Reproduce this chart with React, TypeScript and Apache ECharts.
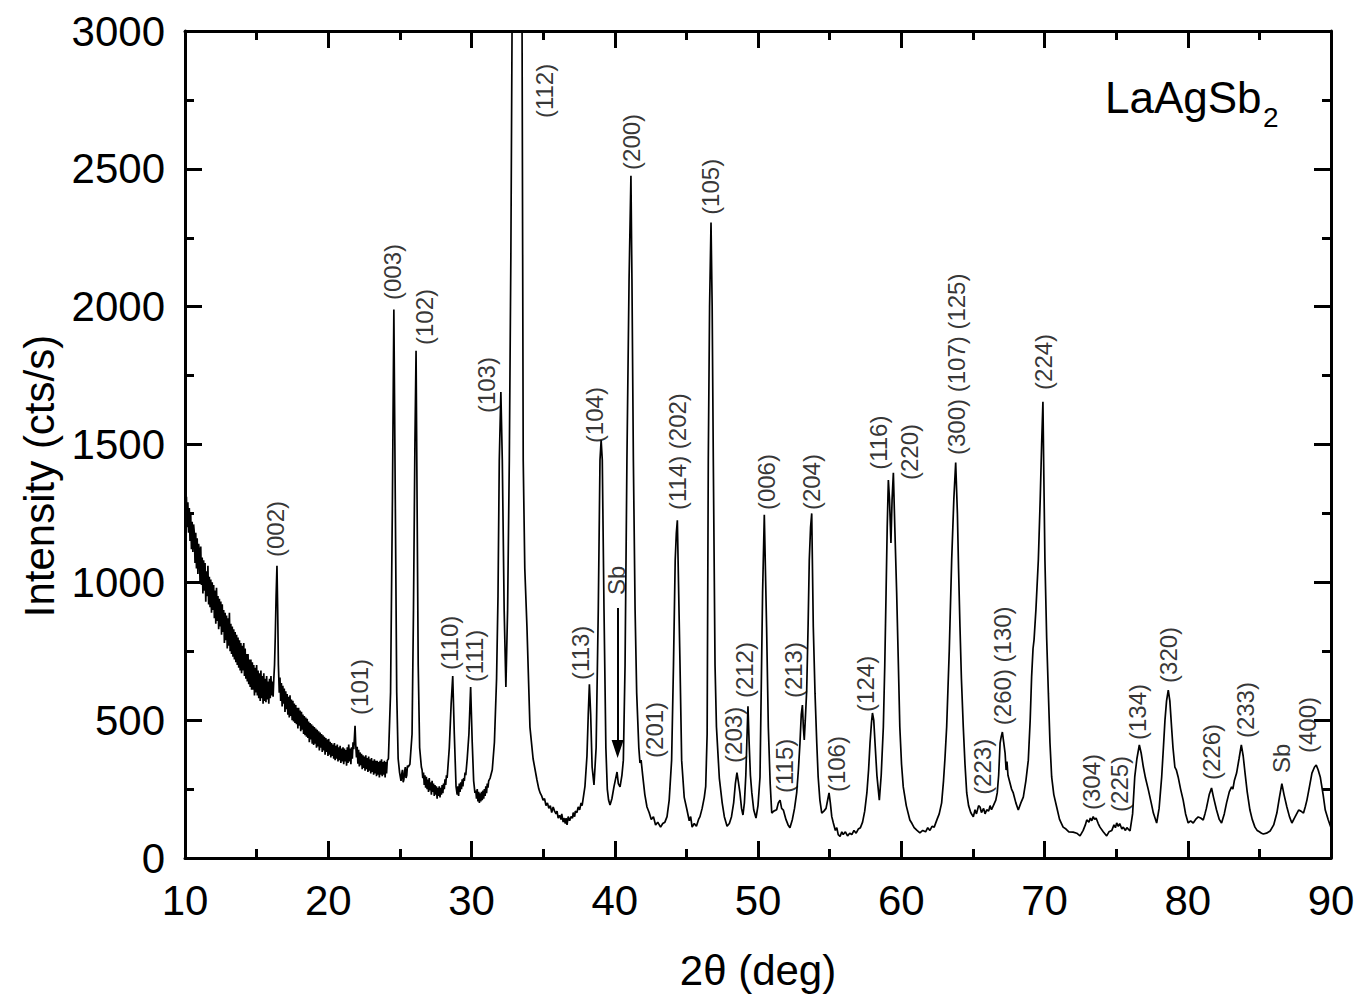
import React, { useEffect, useRef } from "react";
import * as echarts from "echarts";

const FONT = '"Liberation Sans", Arial, Helvetica, sans-serif';

// 2θ (deg), intensity (cts/s), split by region
const scanLowAngle: [number, number][] = [
  [10.00,1340],[10.05,1250],[10.10,1310],[10.15,1200],[10.20,1290],[10.25,1180],[10.30,1270],[10.35,1150],[10.40,1250],[10.45,1120],
  [10.50,1220],[10.55,1110],[10.60,1210],[10.65,1180],[10.70,1070],[10.75,1180],[10.80,1050],[10.85,1160],[10.90,1030],[10.95,1140],
  [11.00,1110],[11.05,1000],[11.10,1130],[11.15,990],[11.20,1090],[11.25,960],[11.30,1080],[11.35,970],[11.40,1070],[11.45,930],
  [11.50,1040],[11.55,950],[11.60,1060],[11.65,920],[11.70,1020],[11.75,910],[11.80,1010],[11.85,890],[11.90,1000],[11.95,900],
  [12.00,990],[12.05,870],[12.10,970],[12.15,850],[12.20,980],[12.25,860],[12.30,950],[12.35,830],[12.40,940],[12.45,840],
  [12.50,930],[12.55,810],[12.60,920],[12.65,820],[12.70,900],[12.75,780],[12.80,890],[12.85,790],[12.90,880],[12.95,760],
  [13.00,870],[13.05,770],[13.10,890],[13.15,750],[13.20,850],[13.25,740],[13.30,840],[13.35,730],[13.40,830],[13.45,720],
  [13.50,820],[13.55,710],[13.60,810],[13.65,700],[13.70,800],[13.75,690],[13.80,790],[13.85,680],[13.90,780],[13.95,670],
  [14.00,770],[14.05,680],[14.10,780],[14.15,660],[14.20,760],[14.25,650],[14.30,740],[14.35,640],[14.40,740],[14.45,630],
  [14.50,720],[14.55,620],[14.60,720],[14.65,610],[14.70,710],[14.75,610],[14.80,700],[14.85,590],[14.90,690],[14.95,600],
  [15.00,700],[15.05,590],[15.10,680],[15.15,580],[15.20,670],[15.25,570],[15.30,680],[15.35,580],[15.40,660],[15.45,560],
  [15.50,670],[15.55,570],[15.60,650],[15.65,565],[15.70,660],[15.75,575],[15.80,640],[15.85,560],[15.90,650],[15.95,580],
  [16.00,660],[16.05,590],[16.10,640],[16.15,585],[16.20,650],[16.25,700],[16.30,800],[16.36,950],[16.42,1060],[16.47,900],
  [16.52,700],[16.58,600],[16.63,655],[16.68,570],[16.73,635],[16.78,550],[16.83,625],[16.88,560],[16.93,615],[16.98,530],
  [17.03,605],[17.08,540],[17.13,595],[17.18,520],[17.23,585],[17.28,510],[17.33,590],[17.38,515],[17.43,575],[17.48,500],
  [17.53,570],[17.58,495],[17.63,560],[17.68,490],[17.73,555],[17.78,485],[17.83,545],[17.88,470],[17.93,545],[17.98,480],
  [18.03,535],[18.08,460],[18.13,530],[18.18,465],[18.23,520],[18.28,450],[18.33,515],[18.38,445],[18.43,510],[18.48,440],
  [18.53,505],[18.58,435],[18.63,495],[18.68,420],[18.73,490],[18.78,430],[18.83,485],[18.88,415],[18.93,480],[18.98,410],
  [19.03,475],[19.08,415],[19.13,470],[19.18,400],[19.23,465],[19.28,405],[19.33,460],[19.38,390],[19.43,455],[19.48,400],
  [19.53,450],[19.58,385],[19.63,445],[19.68,390],[19.73,440],[19.78,375],[19.83,435],[19.88,385],[19.93,430],[19.98,370],
  [20.03,432],[20.08,375],[20.13,422],[20.18,365],[20.23,417],[20.28,370],[20.33,412],[20.38,360],[20.43,417],[20.48,355],
  [20.53,407],[20.58,360],[20.63,412],[20.68,350],[20.73,402],[20.78,355],[20.83,407],[20.88,345],[20.93,397],[20.98,350],
  [21.03,402],[21.08,340],[21.13,397],[21.18,350],[21.23,392],[21.28,335],[21.33,402],[21.38,345],[21.43,412],[21.48,350],
  [21.53,397],[21.58,340],[21.63,402],[21.68,360],[21.73,420],[21.78,395],[21.83,440],[21.87,480],[21.92,410],[21.97,365],
  [22.02,403],[22.07,342],[22.12,393],[22.17,332],[22.22,383],[22.27,337],[22.32,378],[22.37,322],[22.42,373],[22.47,327],
  [22.52,368],[22.57,317],[22.62,373],[22.67,322],[22.72,363],[22.77,312],[22.82,368],[22.87,317],[22.92,358],[22.97,307],
  [23.02,363],[23.07,312],[23.12,353],[23.17,302],[23.22,358],[23.27,307],[23.32,353],[23.37,297],[23.42,353],[23.47,302],
  [23.52,348],[23.57,292],[23.62,353],[23.67,302],[23.72,358],[23.77,297],[23.82,348],[23.87,302],[23.92,353],[23.97,292],
  [24.02,348],[24.07,307],[24.12,353],
];

const scanRegion1: [number, number][] = [
  [24.2,360],[24.35,600],[24.48,1300],[24.58,1990],[24.68,1300],[24.78,600],[24.88,360],[24.98,310],[25.08,280],
  [25.13,305],[25.18,320],[25.23,275],[25.28,285],[25.33,315],[25.38,330],[25.43,290],[25.48,300],[25.53,335],[25.58,330],
  [25.7,340],[25.85,450],[25.95,900],[26.05,1500],[26.13,1840],[26.2,1300],[26.28,700],[26.38,400],[26.5,330],
  [26.55,320],[26.6,290],[26.65,310],[26.7,265],[26.75,300],[26.8,255],[26.85,295],[26.9,250],[26.95,285],[27.0,240],
  [27.05,290],[27.1,245],[27.15,275],[27.2,230],[27.25,280],[27.3,240],[27.35,270],[27.4,225],[27.45,265],[27.5,230],
  [27.55,260],[27.6,215],[27.65,255],[27.7,225],[27.75,260],[27.8,220],[27.85,255],[27.9,230],[27.95,265],[28.0,235],
  [28.05,270],[28.1,250],[28.15,285],[28.2,265],[28.25,300],[28.3,290],[28.45,400],[28.58,560],[28.69,660],[28.8,450],
  [28.92,260],[29.0,230],[29.05,260],[29.1,225],[29.15,270],[29.2,240],[29.25,275],[29.3,250],[29.35,285],[29.4,260],
  [29.45,290],[29.5,280],[29.55,310],[29.6,300],[29.7,360],[29.82,450],[29.94,620],[30.05,420],[30.15,280],[30.24,236],
  [30.3,245],[30.35,215],[30.4,250],[30.45,205],[30.5,240],[30.55,200],[30.6,235],[30.65,205],[30.7,240],[30.75,210],
  [30.8,245],[30.85,215],[30.9,250],[30.95,225],[31.0,260],[31.05,235],[31.1,270],[31.15,255],[31.2,280],[31.3,290],
  [31.45,320],[31.6,420],[31.75,650],[31.85,950],[31.94,1444],[32.05,1690],[32.15,1444],[32.28,900],[32.4,620],
];

const scanRegion2: [number, number][] = [
  [32.52,900],[32.64,1444],[32.75,2200],[32.83,3000],[32.95,4500],[33.15,5600],[33.35,4800],[33.47,3600],[33.53,3000],
  [33.61,1444],[33.72,1050],[33.87,840],[34.08,475],[34.3,360],[34.57,283],[34.7,250],[34.8,235],[34.9,225],[35.0,210],
  [35.1,215],[35.2,190],[35.3,200],[35.4,180],[35.5,190],[35.6,165],[35.7,185],[35.8,170],[35.9,160],[35.97,170],
  [36.05,145],[36.15,155],[36.25,140],[36.3,160],[36.4,130],[36.45,145],[36.55,125],[36.6,145],[36.67,120],[36.75,150],
  [36.85,135],[36.95,150],[37.05,145],[37.1,165],[37.2,150],[37.25,170],[37.36,165],[37.45,185],[37.55,175],[37.65,200],
  [37.72,190],[37.78,210],[37.92,260],[38.06,370],
];

const scanRegion3: [number, number][] = [
  [38.15,520],[38.23,630],[38.32,520],[38.42,330],[38.55,265],[38.7,400],[38.85,900],[38.97,1444],[39.05,1515],
  [39.13,1444],[39.25,900],[39.38,400],[39.48,250],[39.57,210],[39.67,192],[39.8,215],[39.95,260],[40.07,290],
  [40.16,312],[40.25,270],[40.37,258],[40.5,300],[40.6,355],[40.72,700],[40.85,1444],[41.0,2100],[41.13,2475],
  [41.2,2100],[41.3,1444],[41.42,900],[41.53,600],[41.68,400],[41.76,345],[41.84,355],[41.95,300],[42.1,230],
  [42.25,185],[42.4,165],[42.55,140],[42.7,150],[42.85,120],[43.0,130],[43.2,112],[43.35,125],[43.5,130],[43.65,150],
  [43.8,210],[43.97,355],[44.1,700],[44.22,1080],[44.3,1180],[44.37,1225],[44.45,1000],[44.55,718],[44.67,355],
  [44.85,220],[45.04,175],[45.2,135],[45.3,150],[45.4,112],[45.55,125],[45.7,115],[45.85,140],[45.95,150],[46.1,180],
  [46.25,220],[46.35,260],[46.45,450],[46.53,1444],[46.62,2000],[46.72,2305],[46.8,2000],[46.88,1444],[47.0,700],
  [47.1,475],[47.3,290],[47.5,200],[47.65,150],[47.84,115],[48.0,125],[48.15,150],[48.3,200],[48.42,270],[48.53,310],
  [48.62,280],[48.74,236],[48.85,180],[48.95,156],[49.05,200],[49.15,300],[49.22,420],[49.3,550],[49.38,420],
  [49.47,300],[49.57,236],[49.7,175],[49.86,145],[50.0,190],[50.14,294],
];

const scanRegion4: [number, number][] = [
  [50.32,961],[50.44,1245],[50.6,838],[50.72,475],[50.85,270],[50.96,163],[51.1,170],[51.3,175],[51.42,200],
  [51.54,210],[51.65,180],[51.77,174],[51.95,140],[52.1,120],[52.23,110],[52.4,140],[52.55,180],[52.7,236],[52.82,320],
  [52.93,417],[53.02,520],[53.1,555],[53.17,470],[53.23,428],[53.3,500],[53.4,609],[53.5,850],[53.58,1081],
  [53.67,1200],[53.75,1250],[53.86,838],[53.98,598],[54.1,420],[54.2,294],[54.32,210],[54.45,163],[54.6,170],
  [54.75,180],[54.88,215],[54.96,236],[55.05,200],[55.15,150],[55.26,127],[55.4,100],[55.5,110],[55.6,85],[55.73,78],
  [55.85,95],[55.95,85],[56.1,95],[56.25,80],[56.4,90],[56.55,85],[56.7,100],[56.85,90],[57.0,105],[57.15,110],
  [57.3,130],[57.45,170],[57.6,236],[57.72,320],[57.82,417],[57.92,490],[57.99,526],[58.08,500],[58.17,417],[58.3,300],
  [58.47,210],[58.6,300],[58.75,475],[58.85,700],[58.94,961],[59.02,1200],[59.1,1371],[59.18,1300],[59.28,1143],
  [59.36,1300],[59.45,1397],[59.55,1200],[59.68,961],[59.8,700],[59.9,475],[60.02,340],[60.14,258],[60.35,190],
  [60.6,138],[60.75,125],[60.9,110],[61.1,100],[61.3,91],[61.5,100],[61.7,95],[61.85,110],[62.0,100],[62.15,115],
  [62.3,112],[62.5,140],[62.65,160],[62.82,200],
];

const scanRegion5: [number, number][] = [
  [62.95,280],[63.05,360],[63.17,475],[63.35,750],[63.52,1081],[63.67,1300],[63.8,1435],[63.92,1250],[64.0,1050],
  [64.1,838],[64.2,650],[64.33,475],[64.45,340],[64.57,236],[64.7,190],[64.85,165],[65.03,149],[65.15,175],[65.25,160],
  [65.4,190],[65.5,185],[65.6,165],[65.75,180],[65.85,160],[65.97,175],[66.1,170],[66.2,190],[66.3,175],[66.43,190],
  [66.6,210],[66.7,236],[66.8,300],[66.9,417],[66.98,440],[67.06,457],[67.15,420],[67.25,380],[67.32,319],[67.38,350],
  [67.45,300],[67.55,280],[67.7,250],[67.82,236],[68.0,200],[68.17,174],[68.35,200],[68.52,221],[68.7,280],[68.87,355],
  [69.0,500],[69.1,657],[69.2,760],[69.27,791],[69.4,900],[69.57,1081],[69.7,1300],[69.8,1500],[69.89,1655],
  [69.95,1400],[70.03,1081],[70.15,800],[70.27,598],[70.38,420],[70.5,294],[70.65,230],[70.85,185],[71.05,140],
  [71.3,112],[71.5,105],[71.7,95],[72.0,94],[72.25,90],[72.48,80],[72.7,100],[72.85,120],[72.95,138],[73.1,130],
  [73.2,145],[73.3,135],[73.4,150],[73.5,140],[73.6,145],[73.75,125],[73.87,112],[74.1,95],[74.34,80],[74.5,95],
  [74.7,100],[74.85,120],[74.95,110],[75.04,127],[75.15,115],[75.25,125],[75.4,105],[75.5,112],[75.65,100],
  [75.75,110],[75.97,98],
];

const scanRegion6: [number, number][] = [
  [76.15,160],[76.3,294],[76.45,360],[76.62,410],[76.75,380],[76.9,330],[77.05,290],[77.25,247],[77.45,200],
  [77.6,163],[77.83,127],[78.0,180],[78.18,294],[78.3,400],[78.41,500],[78.52,570],[78.64,609],[78.75,570],[78.87,475],
  [78.97,400],[79.1,330],[79.2,320],[79.33,294],[79.5,250],[79.68,210],[79.85,160],[80.03,127],[80.2,135],[80.38,127],
  [80.55,140],[80.73,149],[80.9,145],[81.08,138],[81.2,160],[81.3,180],[81.5,230],[81.66,254],[81.8,220],[82.01,174],
  [82.2,140],[82.36,127],[82.55,160],[82.71,200],[82.9,240],[83.06,258],[83.15,250],[83.25,280],[83.41,308],
  [83.58,360],[83.74,410],[83.87,370],[84.0,308],[84.15,240],[84.34,174],[84.5,140],[84.69,112],[84.85,100],[85.0,95],
  [85.15,90],[85.28,87],[85.5,90],[85.75,98],[86.0,120],[86.22,163],[86.4,220],[86.57,270],[86.72,230],[86.92,185],
  [87.1,150],[87.27,127],[87.5,150],[87.74,174],[87.9,170],[88.08,163],[88.2,185],[88.32,210],[88.5,260],[88.67,308],
  [88.85,330],[88.97,337],[89.1,320],[89.25,294],[89.45,230],[89.6,174],[89.8,140],[90.0,110],
];

// peak annotations: text, base position (2θ, intensity) where the rotated text starts
const peakLabelTexts = [
  "(002)", "(101)", "(003)", "(102)", "(110)", "(111)", "(103)", "(112)", "(113)", "(104)", "Sb", "(200)",
  "(201)", "(114) (202)", "(105)", "(203)", "(212)", "(006)", "(115)", "(213)", "(204)", "(106)", "(124)",
  "(116)", "(220)", "(300) (107) (125)", "(223)", "(260) (130)", "(224)", "(304)", "(225)", "(134)", "(320)",
  "(226)", "(233)", "Sb", "(400)",
];
const peakLabelX = [
  16.35, 22.15, 24.52, 26.75, 28.43, 30.24, 31.08, 35.13, 37.64, 38.62, 40.09, 41.2,
  42.74, 44.35, 46.7, 48.26, 49.09, 50.56, 51.82, 52.45, 53.7, 55.5, 57.47,
  58.4, 60.6, 63.89, 65.64, 67.1, 69.9, 73.25, 75.27, 76.46, 78.69,
  81.69, 84.0, 86.51, 88.33,
];
const peakLabelY = [
  1092, 519, 2024, 1861, 682, 638, 1614, 2684, 646, 1505, 954, 2496,
  363, 1262, 2333, 345, 580, 1262, 236, 580, 1262, 239, 530,
  1408, 1371, 1462, 229, 482, 1698, 174, 167, 428, 635,
  283, 435, 308, 381,
];

// Sb impurity arrow (from, to) in data coordinates
const sbArrowFrom: [number, number] = [40.2, 907];
const sbArrowTo: [number, number] = [40.2, 395];

const xTickMin = 10;
const xTickMax = 90;
const xTickStep = 10;
const yTickMin = 0;
const yTickMax = 3000;
const yTickStep = 500;

export default function App() {
  const ref = useRef<HTMLDivElement>(null);

  useEffect(() => {
    if (!ref.current) return;
    const chart = echarts.init(ref.current, undefined, { renderer: "svg" });

    const pattern = [
      ...scanLowAngle,
      ...scanRegion1,
      ...scanRegion2,
      ...scanRegion3,
      ...scanRegion4,
      ...scanRegion5,
      ...scanRegion6,
    ];

    const labelData = peakLabelTexts.map((t, i) => ({
      name: t,
      value: [peakLabelX[i], peakLabelY[i]],
    }));

    const axisCommon = {
      axisLine: { show: true, onZero: false, lineStyle: { color: "#000", width: 3 } },
      axisTick: { show: true, inside: true, length: 17, lineStyle: { color: "#000", width: 3 } },
      minorTick: { show: true, splitNumber: 2, length: 9, lineStyle: { color: "#000", width: 3 } },
      splitLine: { show: false },
      minorSplitLine: { show: false },
    };

    const xAxisBase = {
      type: "value" as const,
      min: xTickMin,
      max: xTickMax,
      interval: xTickStep,
      ...axisCommon,
    };
    const yAxisBase = {
      type: "value" as const,
      min: yTickMin,
      max: yTickMax,
      interval: yTickStep,
      ...axisCommon,
    };

    chart.setOption({
      animation: false,
      backgroundColor: "#fff",
      grid: { left: 185, top: 31, width: 1146, height: 827, containLabel: false },
      xAxis: [
        {
          ...xAxisBase,
          position: "bottom",
          name: "2\u03b8 (deg)",
          nameLocation: "middle",
          nameGap: 91,
          nameTextStyle: { fontFamily: FONT, fontSize: 42, color: "#000" },
          axisLabel: { fontFamily: FONT, fontSize: 42, color: "#000", margin: 21, formatter: (v: number) => String(v) },
        },
        {
          ...xAxisBase,
          position: "top",
          axisLabel: { show: false },
        },
      ],
      yAxis: [
        {
          ...yAxisBase,
          position: "left",
          name: "Intensity (cts/s)",
          nameLocation: "middle",
          nameGap: 125,
          nameTextStyle: { fontFamily: FONT, fontSize: 42, color: "#000", padding: [0, 63, 0, 0] },
          axisLabel: { fontFamily: FONT, fontSize: 42, color: "#000", margin: 20, formatter: (v: number) => String(v) },
        },
        {
          ...yAxisBase,
          position: "right",
          axisLabel: { show: false },
        },
      ],
      graphic: [
        {
          type: "text",
          x: 1105,
          y: 97,
          style: { text: "LaAgSb", fontFamily: FONT, fontSize: 44, fill: "#000", align: "left", verticalAlign: "middle" },
        },
        {
          type: "text",
          x: 1263,
          y: 117,
          style: { text: "2", fontFamily: FONT, fontSize: 28, fill: "#000", align: "left", verticalAlign: "middle" },
        },
      ],
      series: [
        {
          type: "line",
          data: pattern,
          xAxisIndex: 0,
          yAxisIndex: 0,
          showSymbol: false,
          symbol: "none",
          smooth: false,
          clip: true,
          lineStyle: { color: "#000", width: 1.7 },
          silent: true,
          z: 3,
        },
        {
          type: "scatter",
          data: labelData,
          xAxisIndex: 0,
          yAxisIndex: 0,
          symbolSize: 1,
          itemStyle: { color: "rgba(0,0,0,0)" },
          silent: true,
          clip: false,
          z: 5,
          label: {
            show: true,
            position: "inside",
            rotate: 90,
            align: "left",
            verticalAlign: "middle",
            formatter: "{b}",
            fontFamily: FONT,
            fontSize: 24,
            color: "#000",
          },
          markLine: {
            silent: true,
            symbol: ["none", "triangle"],
            symbolSize: [12, 18],
            label: { show: false },
            lineStyle: { color: "#000", width: 2, type: "solid" },
            data: [[{ coord: sbArrowFrom }, { coord: sbArrowTo }]],
          },
        },
      ],
    });

    return () => {
      chart.dispose();
    };
  }, []);

  return (
    <div
      ref={ref}
      style={{ position: "absolute", left: 0, top: 0, width: 1359, height: 1000, background: "#fff" }}
    />
  );
}
